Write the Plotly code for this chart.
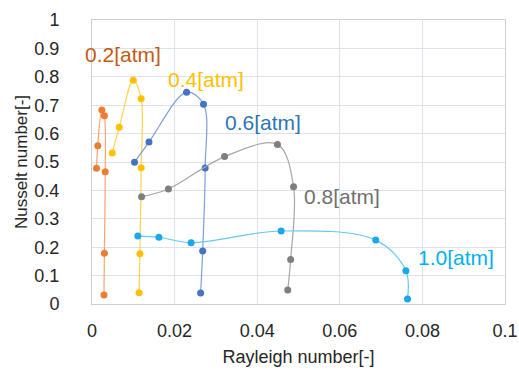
import plotly.graph_objects as go

# Data
ra_02 = [0.0011, 0.0014, 0.0024, 0.0030, 0.0032, 0.0030, 0.0029]
nu_02 = [0.478, 0.557, 0.683, 0.663, 0.466, 0.179, 0.032]

ra_04 = [0.0049, 0.0066, 0.0100, 0.0119, 0.0119, 0.0116, 0.0114]
nu_04 = [0.532, 0.622, 0.788, 0.723, 0.480, 0.177, 0.040]

ra_06 = [0.0103, 0.0138, 0.0229, 0.0270, 0.0274, 0.0268, 0.0263]
nu_06 = [0.499, 0.570, 0.746, 0.703, 0.479, 0.187, 0.039]

ra_08 = [0.0120, 0.0185, 0.0321, 0.0449, 0.0488, 0.0481, 0.0474]
nu_08 = [0.378, 0.405, 0.519, 0.562, 0.413, 0.157, 0.049]

ra_10 = [0.0111, 0.0162, 0.0240, 0.0458, 0.0687, 0.0760, 0.0764]
nu_10 = [0.239, 0.235, 0.216, 0.257, 0.225, 0.117, 0.018]

series_labels = ["0.2[atm]", "0.4[atm]", "0.6[atm]", "0.8[atm]", "1.0[atm]"]
x_ticks = [0, 0.02, 0.04, 0.06, 0.08, 0.1]
x_tick_text = ["0", "0.02", "0.04", "0.06", "0.08", "0.1"]
y_ticks = [0, 0.1, 0.2, 0.3, 0.4, 0.5, 0.6, 0.7, 0.8, 0.9, 1.0]
y_tick_text = ["0", "0.1", "0.2", "0.3", "0.4", "0.5", "0.6", "0.7", "0.8", "0.9", "1"]

series = [(ra_02, nu_02), (ra_04, nu_04), (ra_06, nu_06), (ra_08, nu_08), (ra_10, nu_10)]
marker_colors = ["#ED7D31", "#FFC000", "#4472C4", "#7F7F7F", "#1AA7EC"]
line_colors = ["#F4A474", "#FFD24D", "#7F9FD9", "#A6A6A6", "#66C8F2"]
label_colors = ["#C55A11", "#FFC000", "#2E75B6", "#707070", "#00B0F0"]
label_pos = [(0.0075, 0.877), (0.0276, 0.789), (0.0415, 0.638), (0.0605, 0.378), (0.0882, 0.165)]

FONT = "Liberation Sans"

fig = go.Figure()
for (xs, ys), mc, lc, name in zip(series, marker_colors, line_colors, series_labels):
    fig.add_trace(go.Scatter(
        x=xs, y=ys, mode="lines+markers", name=name,
        line=dict(color=lc, width=1.2, shape="spline", smoothing=1.0),
        marker=dict(color=mc, size=7),
        showlegend=False, cliponaxis=False,
    ))

for name, (ax, ay), c in zip(series_labels, label_pos, label_colors):
    fig.add_annotation(x=ax, y=ay, text=name, showarrow=False,
                       font=dict(family=FONT, size=21, color=c),
                       xanchor="center", yanchor="middle")

fig.update_layout(
    width=519, height=374,
    margin=dict(l=92, r=14, t=20, b=70),
    paper_bgcolor="white", plot_bgcolor="white",
    font=dict(family=FONT, size=17, color="#262626"),
)
fig.update_xaxes(
    range=[0, 0.1], tickvals=x_ticks, ticktext=x_tick_text,
    showgrid=True, gridcolor="#DDE3EC", gridwidth=1,
    showline=True, linecolor="#C9D0DA", linewidth=1, mirror=True,
    zeroline=False, ticks="", ticklabelstandoff=10, automargin=False,
    tickfont=dict(family=FONT, size=18, color="#262626"),
    title=dict(text="Rayleigh number[-]", font=dict(family=FONT, size=18, color="#262626"), standoff=10),
)
fig.update_yaxes(
    range=[0, 1], tickvals=y_ticks, ticktext=y_tick_text,
    showgrid=True, gridcolor="#DDE3EC", gridwidth=1,
    showline=True, linecolor="#C9D0DA", linewidth=1, mirror=True,
    zeroline=False, ticks="", ticklabelstandoff=28, automargin=False,
    tickfont=dict(family=FONT, size=18, color="#262626"),
    title=dict(text="Nusselt number[-]", font=dict(family=FONT, size=17, color="#262626"), standoff=2),
)

# remove the default 8px page margin so the figure fills the 519x374 window exactly
fig.write_html(
    "out.html",
    config={"displayModeBar": False},
    post_script="document.body.style.margin='0';document.body.style.overflow='hidden';",
)
